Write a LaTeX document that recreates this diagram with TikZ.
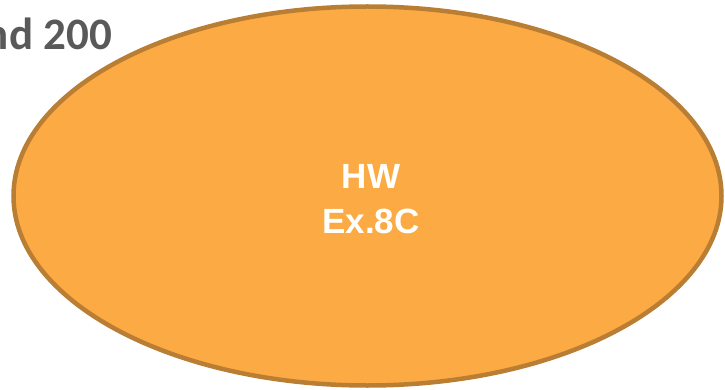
\documentclass[tikz,border=0pt]{standalone}
\usepackage{fontspec}
\setmainfont{Liberation Sans}
\newfontfamily\carlito{Carlito}
\definecolor{ellfill}{RGB}{252,170,67}
\definecolor{elldraw}{RGB}{185,126,51}
\definecolor{titlegray}{RGB}{89,89,89}
\usetikzlibrary{shapes.geometric}
\tikzset{
  bubble/.style={draw=elldraw, fill=ellfill, line width=4.5pt},
  bubbletext/.style={text=white, font=\fontsize{35}{45}\selectfont\bfseries, align=center},
  titletext/.style={text=titlegray, font=\carlito\fontsize{45}{48}\selectfont\bfseries, inner sep=0pt}
}
\begin{document}
\begin{tikzpicture}[x=1pt,y=-1pt]
\useasboundingbox (0,0) rectangle (725,390);
\begin{scope}
\clip (0,0) rectangle (725,390);
\node[titletext, anchor=base east] (title) at (112,50) {and 200};
\draw[bubble] (367.5,196) ellipse [x radius=354, y radius=189.5];
\end{scope}
\coordinate (c) at (371,199);
\node[bubbletext] (hw) at (c) {HW\\Ex.8C};
\end{tikzpicture}
\end{document}
